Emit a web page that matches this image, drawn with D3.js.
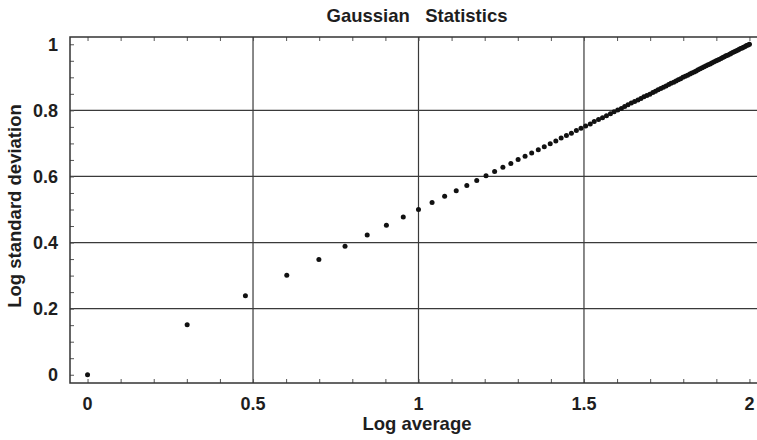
<!DOCTYPE html>
<html>
<head>
<meta charset="utf-8">
<script src="https://cdn.jsdelivr.net/npm/d3@7"></script>
<style>
  body { margin: 0; background: #fff; }
  svg { display: block; font-family: "Liberation Sans", Arial, sans-serif; font-weight: bold; }
</style>
</head>
<body>
<div id="chart"></div>
<script>
// log of the average (n = 1..100)
const logAverage = [
  0, 0.301, 0.477, 0.602, 0.699, 0.778, 0.845, 0.903, 0.954, 1,
  1.041, 1.079, 1.114, 1.146, 1.176, 1.204, 1.230, 1.255, 1.279, 1.301,
  1.322, 1.342, 1.362, 1.380, 1.398, 1.415, 1.431, 1.447, 1.462, 1.477,
  1.491, 1.505, 1.519, 1.531, 1.544, 1.556, 1.568, 1.580, 1.591, 1.602,
  1.613, 1.623, 1.633, 1.643, 1.653, 1.663, 1.672, 1.681, 1.690, 1.699,
  1.708, 1.716, 1.724, 1.732, 1.740, 1.748, 1.756, 1.763, 1.771, 1.778,
  1.785, 1.792, 1.799, 1.806, 1.813, 1.820, 1.826, 1.833, 1.839, 1.845,
  1.851, 1.857, 1.863, 1.869, 1.875, 1.881, 1.886, 1.892, 1.898, 1.903,
  1.908, 1.914, 1.919, 1.924, 1.929, 1.934, 1.940, 1.944, 1.949, 1.954,
  1.959, 1.964, 1.968, 1.973, 1.978, 1.982, 1.987, 1.991, 1.996, 2
];

// log of the standard deviation
const logStdDev = [
  0, 0.151, 0.239, 0.301, 0.349, 0.389, 0.423, 0.452, 0.477, 0.5,
  0.521, 0.540, 0.557, 0.573, 0.588, 0.602, 0.615, 0.628, 0.639, 0.651,
  0.661, 0.671, 0.681, 0.690, 0.699, 0.707, 0.716, 0.724, 0.731, 0.739,
  0.746, 0.753, 0.759, 0.766, 0.772, 0.778, 0.784, 0.790, 0.796, 0.801,
  0.806, 0.812, 0.817, 0.822, 0.827, 0.831, 0.836, 0.841, 0.845, 0.849,
  0.854, 0.858, 0.862, 0.866, 0.870, 0.874, 0.878, 0.882, 0.885, 0.889,
  0.893, 0.896, 0.900, 0.903, 0.906, 0.910, 0.913, 0.916, 0.919, 0.923,
  0.926, 0.929, 0.932, 0.935, 0.938, 0.940, 0.943, 0.946, 0.949, 0.952,
  0.954, 0.957, 0.960, 0.962, 0.965, 0.967, 0.970, 0.972, 0.975, 0.977,
  0.980, 0.982, 0.984, 0.987, 0.989, 0.991, 0.993, 0.996, 0.998, 1
];

const xTickLabels = [0, 0.5, 1, 1.5, 2];
const yTickLabels = [0, 0.2, 0.4, 0.6, 0.8, 1];
const xGrid = [0.5, 1, 1.5];
const yGrid = [0.2, 0.4, 0.6, 0.8];

const points = logAverage.map((v, i) => ({ x: v, y: logStdDev[i] }));

const width = 757;
const height = 440;
const ink = "#1e1e1e";

const svg = d3.select("#chart")
  .append("svg")
  .attr("width", width)
  .attr("height", height);

const x = d3.scaleLinear()
  .domain([-0.053, 2.05])
  .range([70, 766]);

const y = d3.scaleLinear()
  .domain([-0.025, 1.022])
  .range([383, 37]);

const [x0, x1] = x.range();
const [yBottom, yTop] = y.range();

// grid lines
svg.append("g")
  .selectAll("line")
  .data(xGrid)
  .join("line")
  .attr("x1", d => x(d)).attr("x2", d => x(d))
  .attr("y1", yTop).attr("y2", yBottom)
  .attr("stroke", "#3a3a3a").attr("stroke-width", 1.2);

svg.append("g")
  .selectAll("line")
  .data(yGrid)
  .join("line")
  .attr("x1", x0).attr("x2", x1)
  .attr("y1", d => y(d)).attr("y2", d => y(d))
  .attr("stroke", "#3a3a3a").attr("stroke-width", 1.2);

// inward ticks on bottom, top and left
const tickLen = 4;
const xMinor = d3.range(0, 2.001, 0.1);
const yMinor = d3.range(0, 1.001, 0.05);

svg.append("g")
  .call(d3.axisTop(x).tickValues(xMinor).tickSize(tickLen).tickFormat(""))
  .attr("transform", `translate(0,${yBottom})`)
  .call(g => g.select(".domain").remove())
  .call(g => g.selectAll("line").attr("stroke", "#555"));

svg.append("g")
  .call(d3.axisBottom(x).tickValues(xMinor).tickSize(tickLen).tickFormat(""))
  .attr("transform", `translate(0,${yTop})`)
  .call(g => g.select(".domain").remove())
  .call(g => g.selectAll("line").attr("stroke", "#555"));

svg.append("g")
  .call(d3.axisRight(y).tickValues(yMinor).tickSize(tickLen).tickFormat(""))
  .attr("transform", `translate(${x0},0)`)
  .call(g => g.select(".domain").remove())
  .call(g => g.selectAll("line").attr("stroke", "#555"));

// frame
svg.append("rect")
  .attr("x", x0).attr("y", yTop)
  .attr("width", x1 - x0).attr("height", yBottom - yTop)
  .attr("fill", "none")
  .attr("stroke", "#333").attr("stroke-width", 1.5);

// tick labels
svg.append("g")
  .selectAll("text")
  .data(xTickLabels)
  .join("text")
  .attr("x", d => x(d))
  .attr("y", 410)
  .attr("text-anchor", "middle")
  .attr("font-size", 18)
  .attr("fill", ink)
  .text(d => d);

svg.append("g")
  .selectAll("text")
  .data(yTickLabels)
  .join("text")
  .attr("x", 58)
  .attr("y", d => y(d))
  .attr("dy", "0.35em")
  .attr("text-anchor", "end")
  .attr("font-size", 18)
  .attr("fill", ink)
  .text(d => d);

// points
svg.append("g")
  .selectAll("circle")
  .data(points)
  .join("circle")
  .attr("cx", d => x(d.x))
  .attr("cy", d => y(d.y))
  .attr("r", 2.5)
  .attr("fill", "#111");

// titles
svg.append("text")
  .attr("x", 417)
  .attr("y", 22)
  .attr("text-anchor", "middle")
  .attr("font-size", 18.5)
  .attr("fill", ink)
  .style("white-space", "pre")
  .text("Gaussian   Statistics");

svg.append("text")
  .attr("x", 417)
  .attr("y", 430)
  .attr("text-anchor", "middle")
  .attr("font-size", 18.5)
  .attr("fill", ink)
  .text("Log average");

svg.append("text")
  .attr("transform", "translate(21,206) rotate(-90)")
  .attr("text-anchor", "middle")
  .attr("font-size", 18.5)
  .attr("fill", ink)
  .text("Log standard deviation");
</script>
</body>
</html>
